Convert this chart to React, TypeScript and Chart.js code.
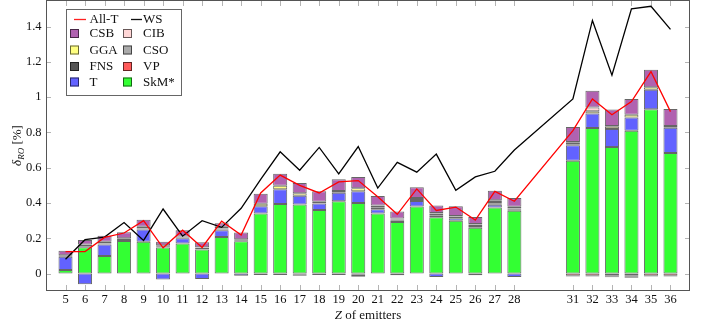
import { useEffect, useRef } from 'react';
import { Chart, registerables } from 'chart.js';

Chart.register(...registerables);

// Proton number Z of emitters
const Z = [5, 6, 7, 8, 9, 10, 11, 12, 13, 14, 15, 16, 17, 18, 19, 20, 21, 22, 23, 24, 25, 26, 27, 28, 31, 32, 33, 34, 35, 36];

// Stacked contributions (bottom to top): SkM*, T, VP, FNS, CSO, GGA, CIB, CSB
const skm = [0.02, 0.15, 0.10, 0.185, 0.18, 0.148, 0.17, 0.137, 0.207, 0.184, 0.341, 0.394, 0.392, 0.36, 0.41, 0.40, 0.341, 0.293, 0.38, 0.32, 0.30, 0.26, 0.375, 0.356, 0.64, 0.825, 0.717, 0.81, 0.932, 0.684];
const tt = [0.075, -0.06, 0.065, 0, 0.07, -0.033, 0.03, -0.03, 0.038, -0.012, 0.04, 0.084, 0.049, 0.037, 0.048, 0.067, 0.024, -0.01, 0.032, -0.02, 0.013, -0.01, 0.015, -0.02, 0.088, 0.083, 0.103, 0.075, 0.11, 0.142];
const vp = [0, 0, 0, 0, 0, 0, 0, 0, 0, 0, 0, 0, -0.004, 0, 0, -0.004, 0, 0, 0, 0, 0, 0, 0, 0, -0.012, -0.012, -0.01, -0.01, -0.012, -0.012];
const fns = [0.004, 0.005, 0.005, 0.005, 0.005, 0.007, 0.005, 0.01, 0.005, 0.005, -0.008, -0.008, -0.008, -0.008, -0.008, -0.004, 0.008, 0.007, 0.005, 0.01, 0.01, 0.01, 0.008, 0.008, -0.005, -0.005, -0.005, -0.005, -0.005, -0.005];
const cso = [0, 0, 0, 0, 0, 0, 0, 0, 0.005, 0, 0, 0, 0, 0, 0, -0.01, 0.005, 0.007, 0, 0.01, 0, 0.008, 0.008, 0.005, 0.005, 0, -0.006, -0.008, 0, 0];
const gga = [0.005, 0.01, 0.01, 0.01, 0.01, 0.005, 0.005, 0.003, 0.01, 0.006, 0.015, 0.02, 0.014, 0.01, 0.01, 0.016, 0.008, 0.005, 0.012, 0.003, 0.003, 0.003, 0.01, 0.01, 0.009, 0.012, 0.012, 0.015, 0.014, 0.01];
const cib = [0, 0, 0, 0, 0, 0, 0, 0, 0, 0, 0, 0, 0, 0, 0, 0, 0, 0, 0, 0, 0, 0, 0, 0, 0.004, 0.022, 0.004, 0, 0, 0];
const csb = [0.025, 0.025, 0.035, 0.035, 0.04, 0.02, 0.035, 0.027, 0.02, 0.038, 0.057, 0.068, 0.058, 0.06, 0.067, 0.064, 0.054, 0.04, 0.06, 0.043, 0.056, 0.04, 0.054, 0.05, 0.085, 0.095, 0.094, 0.09, 0.10, 0.097];

// Lines
const allT = [0.125, 0.125, 0.205, 0.23, 0.30, 0.146, 0.246, 0.148, 0.297, 0.218, 0.457, 0.558, 0.50, 0.457, 0.52, 0.527, 0.435, 0.336, 0.48, 0.358, 0.377, 0.303, 0.466, 0.41, 0.81, 0.99, 0.90, 0.975, 1.145, 0.918];
const ws = [0.081, 0.192, 0.207, 0.289, 0.188, 0.366, 0.212, 0.30, 0.262, 0.37, 0.534, 0.69, 0.586, 0.715, 0.565, 0.72, 0.485, 0.63, 0.575, 0.677, 0.472, 0.548, 0.58, 0.70, 0.99, 1.435, 1.125, 1.50, 1.515, 1.384];

const xTickValues = Z;
const yTickValues = [0, 0.2, 0.4, 0.6, 0.8, 1, 1.2, 1.4];
const yTickLabels = ['0', '0.2', '0.4', '0.6', '0.8', '1', '1.2', '1.4'];

const barSeries = [
  { label: 'SkM*', data: skm, color: '#33ff33' },
  { label: 'T', data: tt, color: '#6262ff' },
  { label: 'VP', data: vp, color: '#ff5a5a' },
  { label: 'FNS', data: fns, color: '#555555' },
  { label: 'CSO', data: cso, color: '#aaaaaa' },
  { label: 'GGA', data: gga, color: '#ffff80' },
  { label: 'CIB', data: cib, color: '#ffd6d6' },
  { label: 'CSB', data: csb, color: '#b062b0' },
];

const legendRows: [string, string][] = [
  ['CSB', 'CIB'],
  ['GGA', 'CSO'],
  ['FNS', 'VP'],
  ['T', 'SkM*'],
];

const FONT = '"Liberation Serif", "Times New Roman", serif';

const colorOf = (name: string) => barSeries.find((s) => s.label === name)!.color;

const decorPlugin = {
  id: 'decor',
  beforeDatasetsDraw(chart: any) {
    const { ctx, chartArea: a, scales } = chart;
    const x = scales.x;
    const y = scales.y;
    ctx.save();
    ctx.strokeStyle = '#b4b4b4';
    ctx.lineWidth = 1;
    ctx.beginPath();
    for (const v of xTickValues) {
      const px = Math.round(x.getPixelForValue(v)) + 0.5;
      ctx.moveTo(px, a.bottom);
      ctx.lineTo(px, a.bottom - 5);
      ctx.moveTo(px, a.top);
      ctx.lineTo(px, a.top + 5);
    }
    for (const v of yTickValues) {
      const py = Math.round(y.getPixelForValue(v)) + 0.5;
      ctx.moveTo(a.left, py);
      ctx.lineTo(a.left + 5, py);
      ctx.moveTo(a.right, py);
      ctx.lineTo(a.right - 5, py);
    }
    ctx.stroke();
    ctx.restore();
  },
  afterDraw(chart: any) {
    const { ctx, chartArea: a, scales } = chart;
    const x = scales.x;
    const y = scales.y;
    ctx.save();
    // frame
    ctx.strokeStyle = '#555555';
    ctx.lineWidth = 1;
    ctx.strokeRect(a.left + 0.5, a.top - 0.5, a.right - a.left - 1, a.bottom - a.top + 1);

    // tick labels
    ctx.fillStyle = '#111';
    ctx.font = `12.5px ${FONT}`;
    ctx.textAlign = 'center';
    ctx.textBaseline = 'middle';
    for (const v of xTickValues) {
      ctx.fillText(String(v), x.getPixelForValue(v), a.bottom + 10);
    }
    ctx.textAlign = 'right';
    yTickValues.forEach((v, i) => {
      ctx.fillText(yTickLabels[i], a.left - 4.5, y.getPixelForValue(v));
    });

    // x title
    ctx.textAlign = 'left';
    const cx = (a.left + a.right) / 2;
    ctx.font = `italic 13px ${FONT}`;
    const zW = ctx.measureText('Z').width;
    ctx.font = `13px ${FONT}`;
    const restW = ctx.measureText(' of emitters').width;
    const sx = cx - (zW + restW) / 2;
    ctx.font = `italic 13px ${FONT}`;
    ctx.fillText('Z', sx, 316);
    ctx.font = `13px ${FONT}`;
    ctx.fillText(' of emitters', sx + zW, 316);

    // y title (rotated)
    ctx.save();
    ctx.translate(17, (a.top + a.bottom) / 2);
    ctx.rotate(-Math.PI / 2);
    ctx.font = `italic 13px ${FONT}`;
    const dW = ctx.measureText('δ').width;
    ctx.font = `italic 9px ${FONT}`;
    const subW = ctx.measureText('RO').width;
    ctx.font = `13px ${FONT}`;
    const pW = ctx.measureText(' [%]').width;
    let tx = -(dW + subW + pW) / 2;
    ctx.textBaseline = 'alphabetic';
    ctx.font = `italic 13px ${FONT}`;
    ctx.fillText('δ', tx, 4);
    tx += dW;
    ctx.font = `italic 9px ${FONT}`;
    ctx.fillText('RO', tx, 7);
    tx += subW;
    ctx.font = `13px ${FONT}`;
    ctx.fillText(' [%]', tx, 4);
    ctx.restore();

    // legend
    const lx = a.left + 20;
    const ly = 9;
    ctx.fillStyle = '#ffffff';
    ctx.fillRect(lx, ly, 115, 86);
    ctx.strokeStyle = '#666666';
    ctx.strokeRect(lx + 0.5, ly + 0.5, 115, 86);
    ctx.font = `13px ${FONT}`;
    ctx.textBaseline = 'middle';
    ctx.textAlign = 'left';
    // line entries
    ctx.lineWidth = 1.3;
    ctx.strokeStyle = '#ff2020';
    ctx.beginPath();
    ctx.moveTo(74, 19.5);
    ctx.lineTo(86, 19.5);
    ctx.stroke();
    ctx.strokeStyle = '#111';
    ctx.beginPath();
    ctx.moveTo(131, 19.5);
    ctx.lineTo(142, 19.5);
    ctx.stroke();
    ctx.fillStyle = '#111';
    ctx.fillText('All-T', 89.5, 20);
    ctx.fillText('WS', 143, 20);
    const rowY = [33.5, 50, 66.5, 82];
    const colSq = [70, 123];
    const colTx = [89.5, 143];
    ctx.lineWidth = 1;
    legendRows.forEach((row, r) => {
      row.forEach((name, c) => {
        ctx.fillStyle = colorOf(name);
        ctx.fillRect(colSq[c], rowY[r] - 4.5, 9, 9);
        ctx.strokeStyle = 'rgba(0,0,0,0.6)';
        ctx.strokeRect(colSq[c] + 0.5, rowY[r] - 4.5 + 0.5, 8, 8);
        ctx.fillStyle = '#111';
        ctx.fillText(name, colTx[c], rowY[r] + 0.5);
      });
    });
    ctx.restore();
  },
};

export default function App() {
  const ref = useRef<HTMLCanvasElement | null>(null);

  useEffect(() => {
    document.body.style.margin = '0';
    const canvas = ref.current!;
    const datasets: any[] = barSeries.map((s) => ({
      type: 'bar',
      label: s.label,
      data: Z.map((z, i) => ({ x: z, y: s.data[i] === 0 ? null : s.data[i] })),
      backgroundColor: s.color,
      borderColor: 'rgba(0,0,0,0.6)',
      borderWidth: 1,
      borderSkipped: false,
      grouped: false,
      barPercentage: 0.72,
      categoryPercentage: 1,
      order: 0,
    }));
    datasets.push({
      type: 'line',
      label: 'WS',
      data: Z.map((z, i) => ({ x: z, y: ws[i] })),
      borderColor: '#000000',
      borderWidth: 1.3,
      pointRadius: 0,
      tension: 0,
      stack: 'ws',
      order: -1,
    });
    datasets.push({
      type: 'line',
      label: 'All-T',
      data: Z.map((z, i) => ({ x: z, y: allT[i] })),
      borderColor: '#ff0000',
      borderWidth: 1.3,
      pointRadius: 0,
      tension: 0,
      stack: 'allt',
      order: -2,
    });

    const chart = new Chart(canvas, {
      type: 'bar',
      data: { datasets },
      options: {
        animation: false,
        responsive: false,
        devicePixelRatio: 1,
        layout: { padding: { top: 1, right: 24, left: 0, bottom: 0 } },
        plugins: { legend: { display: false }, tooltip: { enabled: false } },
        scales: {
          x: {
            type: 'linear',
            min: 4,
            max: 37,
            offset: false,
            grid: { display: false },
            border: { display: false },
            ticks: { display: false },
            afterBuildTicks: (s: any) => {
              s.ticks = xTickValues.map((v) => ({ value: v }));
            },
            afterFit: (s: any) => {
              s.height = 35;
            },
          },
          y: {
            type: 'linear',
            stacked: true,
            min: -0.093,
            max: 1.545,
            grid: { display: false },
            border: { display: false },
            ticks: { display: false },
            afterBuildTicks: (s: any) => {
              s.ticks = yTickValues.map((v) => ({ value: v }));
            },
            afterFit: (s: any) => {
              s.width = 46;
            },
          },
        },
      },
      plugins: [decorPlugin],
    });
    return () => chart.destroy();
  }, []);

  return (
    <div style={{ position: 'absolute', left: 0, top: 0, width: 714, height: 325, background: '#fff' }}>
      <canvas ref={ref} width={714} height={325} style={{ display: 'block', width: 714, height: 325 }} />
    </div>
  );
}
